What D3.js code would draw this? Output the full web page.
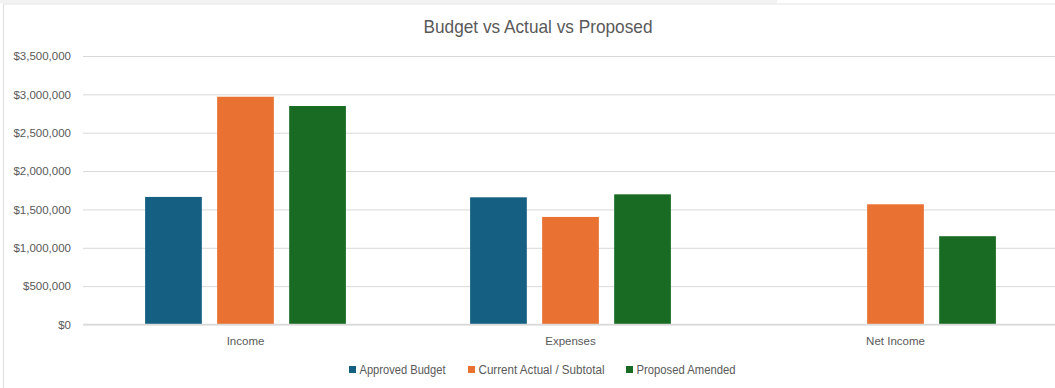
<!DOCTYPE html>
<html>
<head>
<meta charset="utf-8">
<script src="https://cdn.jsdelivr.net/npm/d3@7/dist/d3.min.js"></script>
<style>
  html, body { margin: 0; padding: 0; background: #fff; }
  svg { display: block; }
</style>
</head>
<body>
<svg id="chart" width="1055" height="388"></svg>
<script>
// Chart data
const categories = ["Income", "Expenses", "Net Income"];
const seriesNames = ["Approved Budget", "Current Actual / Subtotal", "Proposed Amended"];
const approvedBudget = [1663000, 1658000, 5000];
const currentActual = [2969000, 1402000, 1567000];
const proposedAmended = [2848000, 1697000, 1151000];
const yTicks = [0, 500000, 1000000, 1500000, 2000000, 2500000, 3000000, 3500000];
const colors = ["#156082", "#E97132", "#196B24"];

const seriesValues = [approvedBudget, currentActual, proposedAmended];

const svg = d3.select("#chart");
const W = 1055, H = 388;
const narrowFont = "'Liberation Sans Narrow', 'Arial Narrow', 'Liberation Sans', sans-serif";
const bodyFont = "'Liberation Sans', Arial, sans-serif";

// worksheet strip above the chart frame
svg.append("rect").attr("x", 0).attr("y", 0).attr("width", 777).attr("height", 3.5).attr("fill", "#f2f2f2");
// chart frame edges
svg.append("line").attr("x1", 3).attr("x2", W).attr("y1", 4).attr("y2", 4)
  .attr("stroke", "#e3e3e3").attr("stroke-width", 1.2);
svg.append("line").attr("x1", 3.5).attr("x2", 3.5).attr("y1", 4).attr("y2", H)
  .attr("stroke", "#e0e0e0").attr("stroke-width", 1.2);

const plot = { left: 83, right: 1058, top: 56, bottom: 324.5 };

const y = d3.scaleLinear().domain([0, 3500000]).range([plot.bottom, plot.top]);
const x0 = d3.scaleBand().domain(categories).range([plot.left, plot.right]).padding(0);

// bar width from a 219% gap and -27% overlap
const barW = x0.bandwidth() / (3 + 2 * 0.27 + 2.19);
const groupW = 3 * barW + 2 * 0.27 * barW;
const x1 = d3.scaleBand().domain(seriesNames).range([0, groupW])
  .paddingInner(0.27 / 1.27).paddingOuter(0);

// title (condensed to a narrow face)
svg.append("text")
  .attr("x", 538).attr("y", 33)
  .attr("text-anchor", "middle")
  .attr("font-family", narrowFont)
  .attr("font-size", 18.5)
  .attr("fill", "#595959")
  .attr("textLength", 229)
  .attr("lengthAdjust", "spacingAndGlyphs")
  .text("Budget vs Actual vs Proposed");

// gridlines + y labels
const yAxis = d3.axisLeft(y).tickValues(yTicks)
  .tickSize(-(W - plot.left))
  .tickPadding(12)
  .tickFormat(d => "$" + d3.format(",")(d));

const gy = svg.append("g").attr("transform", `translate(${plot.left},0)`).call(yAxis);
gy.select(".domain").remove();
gy.selectAll(".tick line").attr("stroke", "#d9d9d9").attr("stroke-width", 1);
gy.selectAll(".tick text")
  .attr("font-family", bodyFont)
  .attr("font-size", 11.5)
  .attr("fill", "#595959");

// bars
const groups = svg.append("g").selectAll("g")
  .data(categories)
  .join("g")
  .attr("transform", d => `translate(${x0(d) + (x0.bandwidth() - groupW) / 2},0)`);

groups.selectAll("rect")
  .data((c, i) => seriesNames.map((s, j) => ({ s, j, v: seriesValues[j][i] })))
  .join("rect")
  .attr("x", d => x1(d.s))
  .attr("width", x1.bandwidth())
  .attr("y", d => y(d.v))
  .attr("height", d => y(0) - y(d.v))
  .attr("fill", d => colors[d.j]);

// category axis line and labels
const xAxis = d3.axisBottom(x0).tickSize(0).tickPadding(12);
const gx = svg.append("g").attr("transform", `translate(0,${plot.bottom})`).call(xAxis);
gx.select(".domain").attr("stroke", "#d9d9d9").attr("stroke-width", 1.5)
  .attr("d", `M${plot.left},0H${W}`);
gx.selectAll(".tick text")
  .attr("font-family", bodyFont)
  .attr("font-size", 11.5)
  .attr("fill", "#595959");

// legend
const legendX = [349, 468, 626];
const legendTextW = [86, 126, 99];
const legend = svg.append("g").selectAll("g")
  .data(seriesNames)
  .join("g")
  .attr("transform", (d, i) => `translate(${legendX[i]},366)`);
legend.append("rect").attr("width", 7).attr("height", 7).attr("fill", (d, i) => colors[i]);
legend.append("text")
  .attr("x", 10.5).attr("y", 7.5)
  .attr("font-family", narrowFont)
  .attr("font-size", 12.5)
  .attr("fill", "#595959")
  .attr("textLength", (d, i) => legendTextW[i])
  .attr("lengthAdjust", "spacingAndGlyphs")
  .text(d => d);
</script>
</body>
</html>
